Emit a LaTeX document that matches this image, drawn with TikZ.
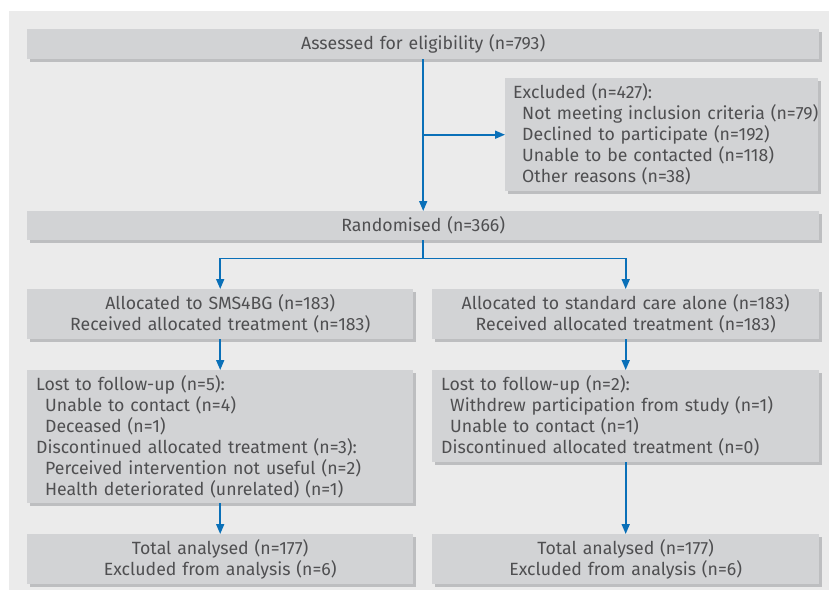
\documentclass[tikz,border=0pt]{standalone}
\usepackage{fontspec}
\setmainfont{Fira Sans}
\usetikzlibrary{arrows.meta,shadows}
\definecolor{bgc}{HTML}{EBEBEB}
\definecolor{boxc}{HTML}{D2D3D5}
\definecolor{shc}{HTML}{BDBEC0}
\definecolor{txtc}{HTML}{4F4F51}
\definecolor{arrc}{HTML}{0A70B8}
\tikzset{
  box/.style={fill=boxc, draw=none, anchor=north west, inner xsep=9pt, inner ysep=0pt,
    text=txtc, font=\fontsize{17.7}{21}\selectfont,
    drop shadow={shadow xshift=3pt, shadow yshift=-3pt, fill=shc, opacity=1}},
  cbox/.style={box, align=center},
  lbox/.style={box, align=left},
  arr/.style={draw=arrc, line width=1.7pt, -{Triangle[length=10pt,width=8pt]}},
  ln/.style={draw=arrc, line width=1.7pt},
}
\newcommand{\ind}{\hspace*{9pt}}
\begin{document}
\begin{tikzpicture}[x=1pt,y=-1pt]
\useasboundingbox (0,0) rectangle (829,590);
\fill[white] (0,0) rectangle (829,590);
\fill[bgc] (9,11) rectangle (829,590);

\node[cbox, minimum width=792pt, minimum height=30pt, text width=774pt] (assess) at (27,29)
  {Assessed for eligibility (n=793)};
\node[lbox, minimum width=313pt, minimum height=113pt, text width=297pt, inner xsep=8pt] (excl) at (505,78)
  {Excluded (n=427):\\
   \mbox{\ind Not meeting inclusion criteria (n=79)}\\
   \ind Declined to participate (n=192)\\
   \ind Unable to be contacted (n=118)\\
   \ind Other reasons (n=38)};
\node[cbox, minimum width=792pt, minimum height=29pt, text width=774pt] (rand) at (27,211)
  {Randomised (n=366)};

\node[cbox, minimum width=386pt, minimum height=50pt, text width=368pt] (allocL) at (27,289)
  {Allocated to SMS4BG (n=183)\\Received allocated treatment (n=183)};
\node[cbox, minimum width=387pt, minimum height=50pt, text width=369pt] (allocR) at (432,289)
  {Allocated to standard care alone (n=183)\\Received allocated treatment (n=183)};

\node[lbox, minimum width=386pt, minimum height=133pt, text width=368pt] (lostL) at (27,370)
  {Lost to follow-up (n=5):\\
   \ind Unable to contact (n=4)\\
   \ind Deceased (n=1)\\
   Discontinued allocated treatment (n=3):\\
   \ind Perceived intervention not useful (n=2)\\
   \ind Health deteriorated (unrelated) (n=1)};
\node[lbox, minimum width=387pt, minimum height=92pt, text width=369pt] (lostR) at (432,370)
  {Lost to follow-up (n=2):\\
   \ind Withdrew participation from study (n=1)\\
   \ind Unable to contact (n=1)\\
   Discontinued allocated treatment (n=0)};

\node[cbox, minimum width=386pt, minimum height=50pt, text width=368pt] (totL) at (27,534)
  {Total analysed (n=177)\\Excluded from analysis (n=6)};
\node[cbox, minimum width=387pt, minimum height=50pt, text width=369pt] (totR) at (432,534)
  {Total analysed (n=177)\\Excluded from analysis (n=6)};

\draw[arr] (assess.south) -- (rand.north);
\coordinate (j1) at (assess.south |- excl.west);
\draw[arr] (j1) -- (excl.west);
\coordinate (j2) at ([yshift=-18pt]rand.south);
\draw[ln] (rand.south) -- (j2);
\draw[arr] (j2) -| (allocL.north);
\draw[arr] (j2) -| (allocR.north);
\draw[arr] (allocL.south) -- (lostL.north);
\draw[arr] (allocR.south) -- (lostR.north);
\draw[arr] (lostL.south) -- (totL.north);
\draw[arr] (lostR.south) -- (totR.north);
\end{tikzpicture}
\end{document}
